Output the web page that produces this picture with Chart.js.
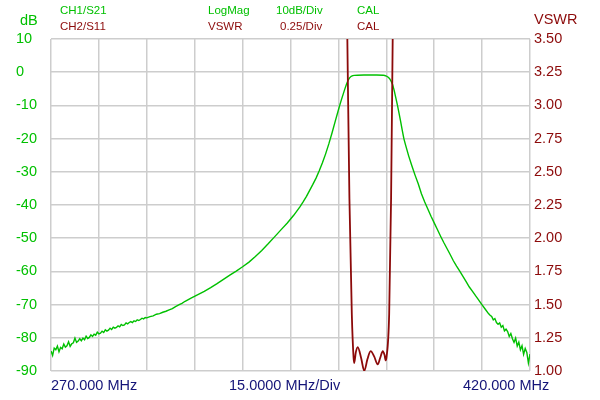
<!DOCTYPE html>
<html><head><meta charset="utf-8">
<script src="https://cdn.jsdelivr.net/npm/chart.js@4"></script>
<style>html,body{margin:0;padding:0;background:#fff}#wrap{width:600px;height:400px}</style>
</head><body><div id="wrap"><canvas id="c" width="600" height="400"></canvas></div>
<script>
// S21 (CH1) trace, frequency in MHz and magnitude in dB
const s21Freq = [270,270.5,271,271.5,272,272.5,273,273.5,274,274.5,275,275.5,276,276.5,277,277.5,278,278.5,279,279.5,
  280,280.5,281,281.5,282,282.5,283,283.5,284,284.5,285,285.5,286,286.5,287,287.5,288,288.5,289,289.5,
  290,290.5,291,291.5,292,292.5,293,293.5,294,294.5,295,295.5,296,296.5,297,297.5,298,298.5,299,299.5,
  300,301,302,303,304,305,306,307,308,309,310,311,312,313,314,316,318,320,322,324,326,328,330,332,334,336,338,340,342,344,346,348,349,350,
  351,352,353,354,355,356,357,358,359,360,360.5,361,361.5,362,362.5,363,363.5,364,364.5,365,366,368,370,372,374,374.5,375,375.5,
  376,376.5,377,377.5,378,378.5,379,379.5,380,380.5,381,382,383,384,385,386,387,388,389,390,391,392,393,394,395,396,397,398,399,400,
  401,402,403,404,405,406,407,407.5,408,408.5,409,409.5,410,410.5,411,411.5,412,412.5,413,413.5,414,414.5,415,415.5,416,416.5,417,417.5,418,418.5,419,419.5,420];
const s21dB = [-84.0,-85.3,-83.1,-83.6,-82.5,-84.2,-82.9,-83.3,-81.9,-82.8,-82.4,-81.2,-82.6,-81.8,-81.5,-80.1,-81.4,-81.0,-80.3,-80.9,
  -80.1,-80.6,-79.5,-80.2,-79.9,-79.1,-79.6,-78.9,-79.2,-78.3,-78.8,-78.6,-78.0,-78.4,-77.6,-78.0,-77.7,-77.1,-77.5,-76.8,
  -77.1,-76.9,-76.4,-76.7,-76.0,-76.3,-76.1,-75.5,-75.8,-75.4,-75.1,-75.4,-74.9,-75.1,-74.6,-74.8,-74.5,-74.1,-74.3,-73.9,
  -74.0,-73.6,-73.4,-72.9,-72.7,-72.3,-72.0,-71.6,-71.2,-70.6,-70.1,-69.6,-69.0,-68.5,-68.0,-67.0,-66.0,-64.9,-63.7,-62.4,-61.1,-59.9,-58.6,-57.2,-55.5,-53.7,-51.7,-49.6,-47.5,-45.4,-43.1,-40.5,-39.0,-37.4,
  -35.6,-33.8,-31.9,-29.7,-27.3,-24.6,-21.6,-18.3,-14.8,-11.4,-9.7,-8.1,-6.6,-5.1,-3.7,-2.5,-1.7,-1.25,-1.05,-0.95,-0.9,-0.85,-0.85,-0.85,-0.9,-1.0,-1.15,-1.45,
  -1.9,-2.7,-3.8,-5.6,-7.8,-10.0,-12.4,-14.9,-17.5,-20.0,-21.8,-25.2,-28.2,-31.0,-33.6,-36.6,-39.0,-41.2,-43.4,-45.4,-47.4,-49.4,-51.3,-53.1,-54.9,-56.8,-58.4,-59.9,-61.5,-63.1,
  -64.7,-66.0,-67.4,-68.7,-70.1,-71.4,-72.7,-73.2,-73.6,-74.6,-74.2,-75.4,-75.9,-75.5,-76.8,-76.3,-77.9,-77.4,-78.1,-79.6,-78.7,-80.3,-81.4,-80.1,-82.5,-81.3,-83.6,-82.4,-85.0,-83.2,-84.4,-87.6,-84.9];

// S11 (CH2) trace shown as VSWR
const swrFreq = [362.4,362.8,363.45,364.2,364.75,364.95,365.45,366.05,367.1,368.1,369.1,370.1,371.2,372.3,373.1,373.9,374.45,374.8,375.05,375.9,376.5,377.0,377.4];
const swrValues = [4.2,3.5,2.3,1.43,1.1,1.06,1.14,1.18,1.1,1.0,1.09,1.15,1.11,1.05,1.1,1.15,1.12,1.08,1.1,1.43,2.3,3.5,4.2];

const dbTicks = [10,0,-10,-20,-30,-40,-50,-60,-70,-80,-90];
const swrTicks = ['3.50','3.25','3.00','2.75','2.50','2.25','2.00','1.75','1.50','1.25','1.00'];
const headerRow1 = ['CH1/S21','LogMag','10dB/Div','CAL'];
const headerRow2 = ['CH2/S11','VSWR','0.25/Div','CAL'];
const bottomLabels = ['270.000 MHz','15.0000 MHz/Div','420.000 MHz'];

const GREEN = '#00c000';
const RED = '#8c0a0a';
const NAVY = '#141478';
const GRID = '#cdcdcd';
const FONT = '"Liberation Sans", Arial, sans-serif';

const textPlugin = {
  id: 'texts',
  afterDraw(chart) {
    const ctx = chart.ctx;
    ctx.save();
    ctx.textBaseline = 'middle';
    ctx.textAlign = 'left';
    ctx.font = '11.5px ' + FONT;
    const hx = [60, 208, 276, 357];
    const hx2 = [60, 208, 280, 357];
    ctx.fillStyle = GREEN;
    headerRow1.forEach((t, i) => ctx.fillText(t, hx[i], 11));
    ctx.fillStyle = RED;
    headerRow2.forEach((t, i) => ctx.fillText(t, hx2[i], 27));
    ctx.font = '14.5px ' + FONT;
    ctx.fillStyle = GREEN;
    ctx.fillText('dB', 20, 21);
    ctx.fillStyle = RED;
    ctx.fillText('VSWR', 534, 20);
    ctx.fillStyle = NAVY;
    const bx = [51, 229, 463];
    bottomLabels.forEach((t, i) => ctx.fillText(t, bx[i], 386));
    ctx.restore();
  }
};

new Chart(document.getElementById('c'), {
  type: 'line',
  data: {
    datasets: [
      {
        label: 'VSWR',
        data: swrFreq.map((f, i) => ({x: f, y: swrValues[i]})),
        yAxisID: 'ySwr',
        borderColor: RED,
        borderWidth: 1.8,
        pointRadius: 0,
        cubicInterpolationMode: 'monotone',
        fill: false
      },
      {
        label: 'S21',
        data: s21Freq.map((f, i) => ({x: f, y: s21dB[i]})),
        yAxisID: 'yDb',
        borderColor: GREEN,
        borderWidth: 1.4,
        pointRadius: 0,
        tension: 0,
        fill: false
      }
    ]
  },
  options: {
    responsive: false,
    animation: false,
    devicePixelRatio: 1,
    layout: {padding: {left: 16, right: 0, top: 39, bottom: 29}},
    plugins: {legend: {display: false}, tooltip: {enabled: false}, title: {display: false}},
    scales: {
      x: {
        type: 'linear', min: 270, max: 420,
        ticks: {display: false, stepSize: 15},
        grid: {color: GRID, lineWidth: 1.5, drawTicks: false},
        border: {display: false},
        afterFit(s) { s.height = 0; }
      },
      yDb: {
        position: 'left', min: -90, max: 10,
        afterBuildTicks(s) { s.ticks = dbTicks.map(v => ({value: v})); },
        ticks: {color: GREEN, font: {family: FONT, size: 14.5}, crossAlign: 'far', padding: 0,
          callback: v => String(v)},
        grid: {color: GRID, lineWidth: 1.5, drawTicks: false},
        border: {display: false},
        afterFit(s) { s.width = 35; }
      },
      ySwr: {
        position: 'right', min: 1.0, max: 3.5,
        afterBuildTicks(s) { s.ticks = swrTicks.map(v => ({value: parseFloat(v)})); },
        ticks: {color: RED, font: {family: FONT, size: 14.5}, padding: 4,
          callback: v => Number(v).toFixed(2)},
        grid: {display: false, drawTicks: false},
        border: {display: false},
        afterFit(s) { s.width = 70; }
      }
    }
  },
  plugins: [textPlugin]
});
</script>
</body></html>
